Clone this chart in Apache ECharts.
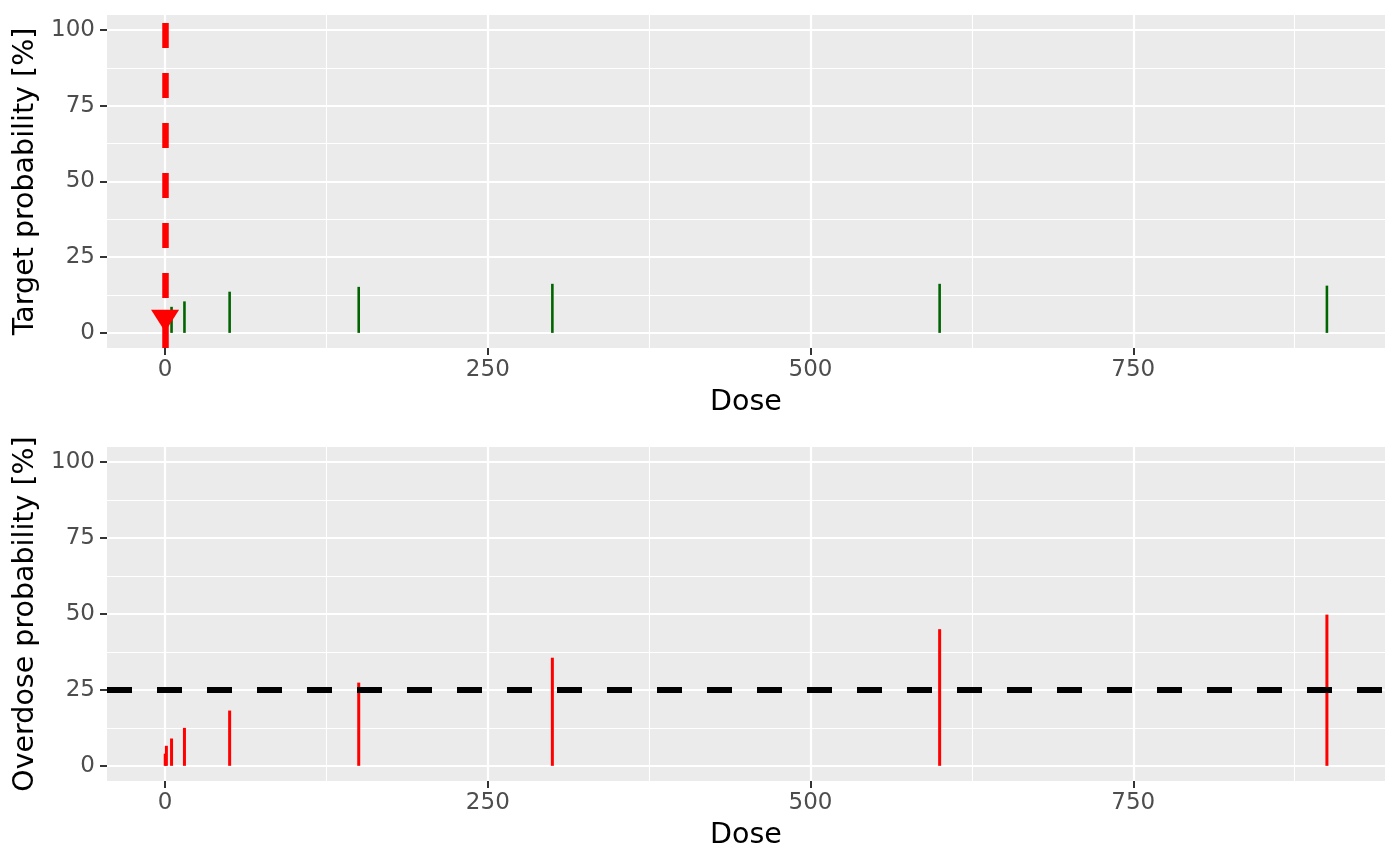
<!DOCTYPE html>
<html>
<head>
<meta charset="utf-8">
<script src="https://cdn.jsdelivr.net/npm/echarts@6/dist/echarts.min.js"></script>
<style>
  html, body { margin: 0; padding: 0; background: #fff; }
  #chart { width: 1400px; height: 865px; }
</style>
</head>
<body>
<div id="chart"></div>
<script>
// dose grid and the two probability curves (in %)
const doses = [0.1, 1, 5, 15, 50, 150, 300, 600, 900];
const targetProb = [3, 5.5, 8.6, 10.4, 13.6, 15.2, 16.2, 16.2, 15.6];
const overdoseProb = [4, 6.6, 9, 12.5, 18.2, 27.4, 35.6, 45, 49.8];
const overdoseLimit = 25;
const nextDose = [0];
const nextDoseMark = [[0, 4]];

// tick values
const xTicks = [0, 250, 500, 750];
const xMinor = [125, 375, 625, 875];
const yTicks = [0, 25, 50, 75, 100];
const yMinor = [12.5, 37.5, 62.5, 87.5];

const font = "DejaVu Sans";

function xAxis(gi) {
  return {
    type: "value",
    gridIndex: gi,
    min: -45,
    max: 945,
    name: "Dose",
    nameLocation: "middle",
    nameGap: 40,
    nameTextStyle: { fontSize: 28.5, color: "#000", fontFamily: font },
    axisLine: { show: false, onZero: false },
    axisTick: {
      show: true,
      length: 7,
      customValues: xTicks,
      lineStyle: { color: "#333333", width: 2 },
    },
    axisLabel: {
      customValues: xTicks,
      fontSize: 23,
      color: "#4D4D4D",
      fontFamily: font,
      margin: 11,
    },
    splitLine: { show: false },
  };
}

function yAxis(gi, title) {
  return {
    type: "value",
    gridIndex: gi,
    min: -5,
    max: 105,
    name: title,
    nameLocation: "middle",
    nameGap: 64,
    nameRotate: 90,
    nameTextStyle: { fontSize: 28.5, color: "#000", fontFamily: font },
    axisLine: { show: false, onZero: false },
    axisTick: {
      show: true,
      length: 7,
      customValues: yTicks,
      lineStyle: { color: "#333333", width: 2 },
    },
    axisLabel: {
      customValues: yTicks,
      fontSize: 23,
      color: "#4D4D4D",
      fontFamily: font,
      margin: 12,
    },
    splitLine: { show: false },
  };
}

// white ggplot-style grid lines, drawn under the bars
function gridLines(gi) {
  const major = { color: "#FFFFFF", width: 2.2, type: "solid" };
  const minor = { color: "#FFFFFF", width: 1.1, type: "solid" };
  const data = []
    .concat(xMinor.map((v) => ({ xAxis: v, lineStyle: minor })))
    .concat(yMinor.map((v) => ({ yAxis: v, lineStyle: minor })))
    .concat(xTicks.map((v) => ({ xAxis: v, lineStyle: major })))
    .concat(yTicks.map((v) => ({ yAxis: v, lineStyle: major })));
  return {
    type: "line",
    xAxisIndex: gi,
    yAxisIndex: gi,
    data: [],
    z: 1,
    markLine: {
      silent: true,
      symbol: "none",
      z: 1,
      label: { show: false },
      emphasis: { disabled: true },
      data: data,
    },
  };
}

const myChart = echarts.init(document.getElementById("chart"));
const option = {
  animation: false,
  grid: [
    { left: 107, right: 15, top: 15, height: 333, show: true, backgroundColor: "#EBEBEB", borderWidth: 0 },
    { left: 107, right: 15, top: 447, height: 334, show: true, backgroundColor: "#EBEBEB", borderWidth: 0 },
  ],
  xAxis: [xAxis(0), xAxis(1)],
  yAxis: [yAxis(0, "Target probability [%]"), yAxis(1, "Overdose probability [%]")],
  series: [
    gridLines(0),
    gridLines(1),
    {
      name: "target",
      type: "bar",
      xAxisIndex: 0,
      yAxisIndex: 0,
      barWidth: 2.6,
      itemStyle: { color: "#006400" },
      data: doses.map((d, i) => [d, targetProb[i]]),
      markLine: {
        silent: true,
        symbol: "none",
        label: { show: false },
        lineStyle: { color: "#FF0000", width: 6.5, type: [25, 25] },
        data: nextDose.map((v) => ({ xAxis: v })),
      },
    },
    {
      name: "next",
      type: "scatter",
      xAxisIndex: 0,
      yAxisIndex: 0,
      z: 10,
      symbol: "triangle",
      symbolRotate: 180,
      symbolSize: [28, 22],
      itemStyle: { color: "#FF0000", opacity: 1 },
      data: nextDoseMark,
    },
    {
      name: "overdose",
      type: "bar",
      xAxisIndex: 1,
      yAxisIndex: 1,
      barWidth: 3,
      itemStyle: { color: "#FF0000" },
      data: doses.map((d, i) => [d, overdoseProb[i]]),
      markLine: {
        silent: true,
        symbol: "none",
        label: { show: false },
        lineStyle: { color: "#000000", width: 6, type: [25, 25] },
        data: [{ yAxis: overdoseLimit }],
      },
    },
  ],
};
myChart.setOption(option);
</script>
</body>
</html>
